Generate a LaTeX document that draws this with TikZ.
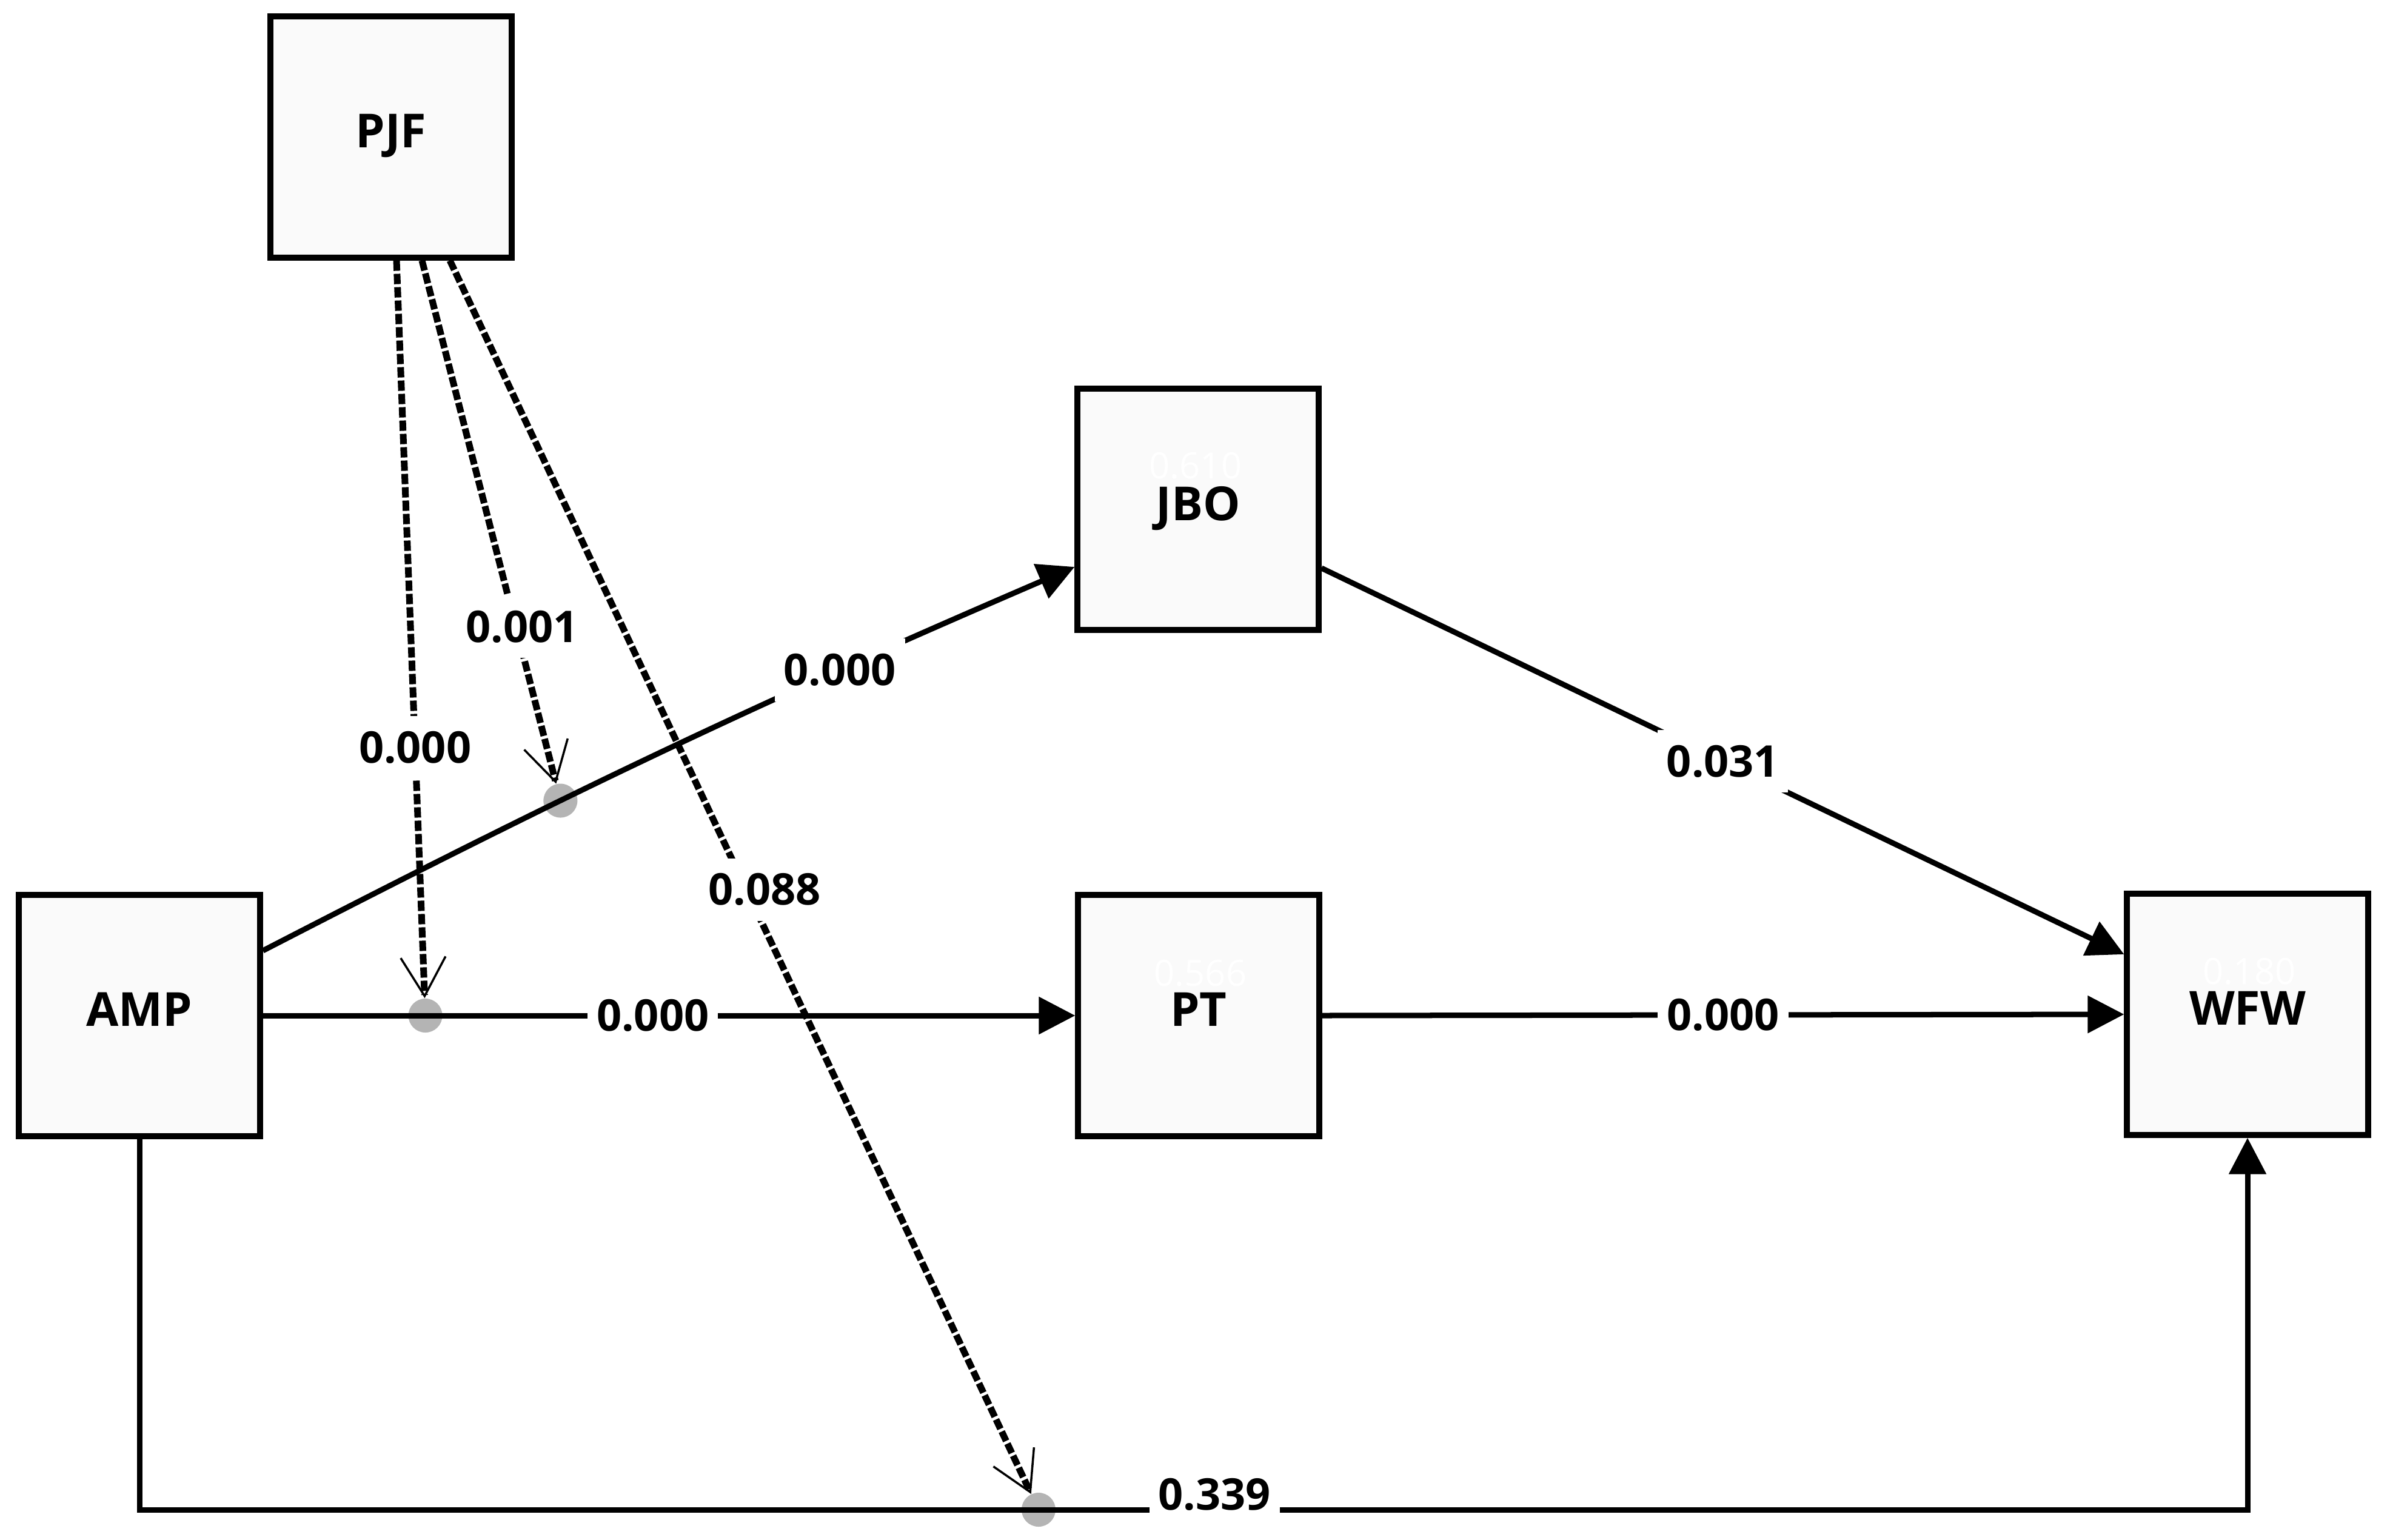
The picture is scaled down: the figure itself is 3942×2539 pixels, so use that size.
\documentclass[tikz,border=0pt]{standalone}
\usepackage{fontspec}
\setmainfont{Open Sans}
\usetikzlibrary{arrows.meta,calc}
\pgfdeclarelayer{background}
\pgfsetlayers{background,main}
\definecolor{boxfill}{HTML}{FAFAFA}
\definecolor{dotgray}{HTML}{B4B4B4}
\begin{document}
\begin{tikzpicture}[x=0.01cm,y=-0.01cm,
  var/.style={draw=black, line width=0.1cm, fill=boxfill, minimum size=3.97cm, inner sep=0pt, text depth=0.2cm, font=\fontsize{22}{26}\selectfont\bfseries},
  conn/.style={line width=0.09cm, -{Triangle[length=0.6cm,width=0.6cm]}},
  modline/.style={line width=0.11cm, dash pattern=on 0.17cm off 0.05cm, -{Straight Barb[length=0.64cm,width=0.74cm,line width=0.035cm]}},
  val/.style={fill=white, inner xsep=0.15cm, inner ysep=0.25cm, font=\fontsize{20.5}{24}\selectfont\bfseries},
  mdot/.style={circle, fill=dotgray, minimum size=0.56cm, inner sep=0pt},
  rsq/.style={text=white, inner sep=0pt, font=\fontsize{17}{20}\selectfont}
]
\useasboundingbox (0,0) rectangle (3942,2539);

% constructs
\node[var] (PJF) at (645,226) {PJF};
\node[var] (JBO) at (1976,840) {JBO};
\node[var] (AMP) at (230,1675) {AMP};
\node[var] (PT)  at (1977,1675) {PT};
\node[var] (WFW) at (3707,1673) {WFW};

% faint R-square values
\node[rsq] (rJBO) at (1972,768) {0.610};
\node[rsq] (rPT)  at (1980,1605) {0.566};
\node[rsq] (rWFW) at (3710,1602) {0.180};

\coordinate (bot) at (0,2490);

% structural paths
\draw[conn] ($(AMP.east)+(0,-107)$) to[bend left=2] coordinate[pos=0.36] (m1) node[val,pos=0.73] (l1) {0.000} ($(JBO.west)+(0,95)$);
\draw[conn] (AMP.east) -- coordinate[pos=0.2] (m2) node[val,pos=0.48] (l2) {0.000} (PT.west);
\draw[conn] ($(JBO.east)+(0,97)$) -- node[val,pos=0.5] (l3) {0.031} ($(WFW.west)+(0,-99)$);
\draw[conn] (PT.east) -- node[val,pos=0.5] (l4) {0.000} (WFW.west);
\draw[conn] (AMP.south) -- (AMP.south |- bot) -- coordinate[pos=0.4265] (m3) node[val,pos=0.51,yshift=0.25cm] (l5) {0.339} (WFW.south |- bot) -- (WFW.south);

% moderation points
\begin{pgfonlayer}{background}
\node[mdot] (d1) at (m1) {};
\node[mdot] (d2) at (m2) {};
\node[mdot] (d3) at (m3) {};
\end{pgfonlayer}

% moderating effects
\draw[modline] ($(PJF.south)+(9,0)$) -- node[val,pos=0.66] (l6) {0.000} (d2);
\draw[modline] ($(PJF.south)+(51,0)$) -- node[val,pos=0.7,xshift=0.1cm] (l7) {0.001} (d1);
\draw[modline] ($(PJF.south)+(97,0)$) -- node[val,pos=0.51,xshift=0.3cm] (l8) {0.088} (d3);
\end{tikzpicture}
\end{document}
